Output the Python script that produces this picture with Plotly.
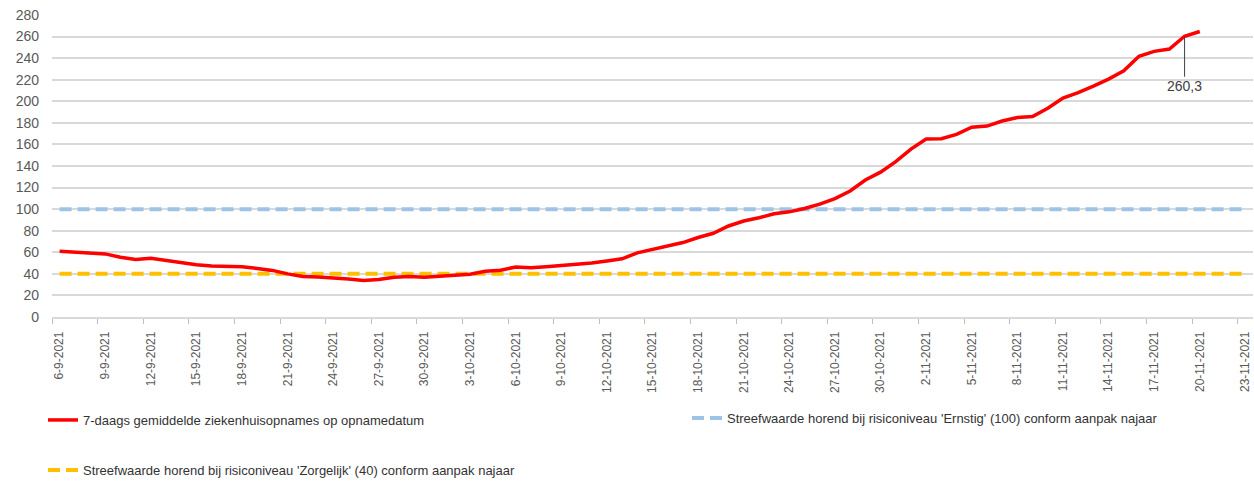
import pandas as pd
import plotly.graph_objects as go

# dates on the x axis (one slot per day)
dates = pd.date_range("2021-09-06", "2021-11-23", freq="D")

# 7-day average hospital admissions, 6-9-2021 .. 20-11-2021
admissions = [
    61, 60.3, 60, 58.5, 55.4, 53.3, 54.5, 52.4, 50.8, 48.4,
    47.4, 47.1, 46.5, 45, 43.2, 40, 37.6, 37, 36.4, 35.3,
    33.8, 34.7, 36.9, 37.5, 36.9, 37.8, 38.4, 39.7, 42.5, 43.4,
    46.3, 45.6, 46.6, 47.5, 48.8, 50, 51.9, 54, 59.5, 62.5,
    65.5, 69, 73.7, 77.6, 84.4, 89, 92, 95.7, 97.5, 100.6,
    104.6, 109.8, 116.8, 127, 134.3, 144, 155.7, 165, 165.3, 169.3,
    176, 177, 181.7, 185, 185.8, 193.5, 203, 208, 214, 220.6,
    228.3, 241.7, 246.3, 248.5, 260.3, 264.7,
]
target_ernstig = [100] * len(dates)
target_zorgelijk = [40] * len(dates)

label_value = 260.3
label_date = dates[admissions.index(label_value)]

name_red = "7-daags gemiddelde ziekenhuisopnames op opnamedatum"
name_blue = "Streefwaarde horend bij risiconiveau 'Ernstig' (100) conform aanpak najaar"
name_orange = "Streefwaarde horend bij risiconiveau 'Zorgelijk' (40) conform aanpak najaar"

fig = go.Figure()
fig.add_trace(go.Scatter(
    x=dates, y=target_ernstig, name=name_blue, mode="lines",
    line=dict(color="#9dc3e6", width=4, dash="12px,6px"), legend="legend3"))
fig.add_trace(go.Scatter(
    x=dates, y=target_zorgelijk, name=name_orange, mode="lines",
    line=dict(color="#ffc000", width=4, dash="12px,6px"), legend="legend2"))
fig.add_trace(go.Scatter(
    x=dates[:len(admissions)], y=admissions, name=name_red, mode="lines",
    line=dict(color="#ff0000", width=3.5), legend="legend"))

fig.add_annotation(
    x=label_date, y=label_value, text="260,3",
    showarrow=True, arrowhead=0, arrowwidth=1, arrowcolor="#404040",
    ax=0, ay=50, font=dict(size=14, color="#404040", family="Liberation Sans"))

day_ms = 86400000
half_day = pd.Timedelta(hours=12)
fig.update_xaxes(
    type="date", automargin=False,
    range=[dates[0] - half_day, dates[-1] + half_day],
    tick0=dates[0], dtick=3 * day_ms, tickformat="%-d-%-m-%Y",
    tickangle=-90, ticks="", ticklabelstandoff=8, ticklabeloverflow="allow",
    tickfont=dict(size=12, color="#595959", family="Liberation Sans"),
    showgrid=False, showline=True, linecolor="#d9d9d9", linewidth=1.5,
    minor=dict(tick0=dates[0] - half_day, dtick=3 * day_ms,
               ticks="outside", ticklen=5, tickcolor="#bfbfbf", showgrid=False),
)
fig.update_yaxes(
    range=[0, 280], dtick=20, showgrid=True, gridcolor="#d9d9d9", gridwidth=1.5,
    zeroline=False, ticks="", ticklabelstandoff=12, automargin=False,
    tickfont=dict(size=14, color="#595959", family="Liberation Sans"),
)

legend_font = dict(size=13, color="#333333", family="Liberation Sans")
common = dict(orientation="h", xref="container", yref="container",
              yanchor="middle", font=legend_font, bgcolor="rgba(0,0,0,0)")
fig.update_layout(
    width=1254, height=481,
    margin=dict(l=52, r=1, t=15, b=164, autoexpand=False),
    plot_bgcolor="white", paper_bgcolor="white",
    showlegend=True,
    legend=dict(x=43 / 1254, y=1 - 420 / 481, **common),
    legend3=dict(x=687 / 1254, y=1 - 418 / 481, **common),
    legend2=dict(x=43 / 1254, y=1 - 470 / 481, **common),
)

# drop the default 8px page margin so the figure sits at the window's corner
fig.write_html("out.html", config={"displayModeBar": False},
               post_script="document.body.style.margin = '0';")
